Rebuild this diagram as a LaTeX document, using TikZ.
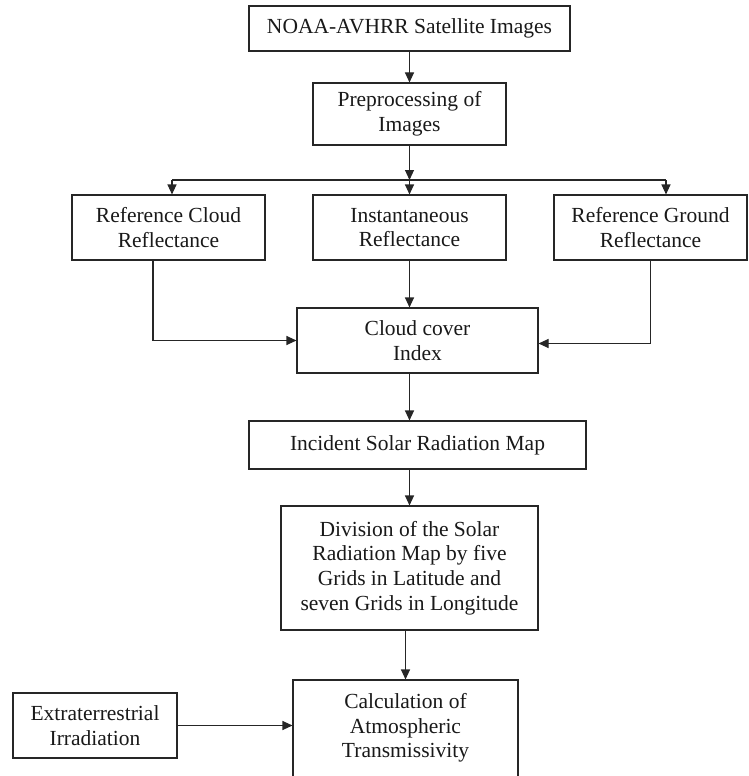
\documentclass[tikz,border=0pt]{standalone}
\usepackage{fontspec}
\setmainfont{Liberation Serif}
\usetikzlibrary{arrows.meta}
\begin{document}
\begin{tikzpicture}[x=1pt,y=-1pt,
  box/.style={draw=black!85, line width=1.1pt, fill=white, align=center, inner sep=0pt,
    font=\fontsize{21.5}{24.7}\selectfont, text=black!90},
  txt/.style={align=center, inner sep=0pt, font=\fontsize{21.5}{24.7}\selectfont, text=black!90},
  arr/.style={draw=black!85, line width=1.1pt, -{Triangle[length=10pt,width=9pt]}},
  ln/.style={draw=black!85, line width=1.1pt}]
\useasboundingbox (0,0) rectangle (748,776);
\node[box, minimum width=321pt, minimum height=45pt] (top) at (409.5,28.5) {NOAA-AVHRR Satellite Images};
\node[box, minimum width=193pt, minimum height=62pt] (pre) at (409.5,114) {Preprocessing of\\Images};
\node[box, minimum width=193pt, minimum height=65pt] (rcl) at (168.5,227.5) {Reference Cloud\\Reflectance};
\node[box, minimum width=193pt, minimum height=65pt] (ins) at (409.5,227.5) {Instantaneous\\Reflectance};
\node[box, minimum width=193pt, minimum height=65pt] (rgr) at (650.5,227.5) {Reference Ground\\Reflectance};
\node[box, minimum width=241pt, minimum height=65pt] (cci) at (417.5,340.5) {Cloud cover\\Index};
\node[box, minimum width=337pt, minimum height=48pt] (isr) at (417.5,445) {Incident Solar Radiation Map};
\node[box, minimum width=257pt, minimum height=124pt] (div) at (409.5,568) {Division of the Solar\\Radiation Map by five\\Grids in Latitude and\\seven Grids in Longitude};
\node[box, minimum width=225pt, minimum height=110pt] (calcbox) at (405.5,735) {};
\node[txt] (calc) at (405.5,728) {Calculation of\\Atmospheric\\Transmissivity};
\node[box, minimum width=164pt, minimum height=65pt] (ext) at (95,725.5) {Extraterrestrial\\Irradiation};
% branch junction
\coordinate (j) at (409.5,180);
\coordinate (jl) at (172,180);
\coordinate (jr) at (666,180);
\draw[arr] (top.south) -- (pre.north);
\draw[arr] (pre.south) -- (j);
\draw[ln] (jl) -- (jr);
\draw[arr] (jl) -- (jl |- rcl.north);
\draw[arr] (j) -- (ins.north);
\draw[arr] (jr) -- (jr |- rgr.north);
\draw[arr] ([xshift=-15.5pt]rcl.south) |- (cci.west);
\draw[arr] (rgr.south) |- ([yshift=-3pt]cci.east);
\draw[arr] (ins.south) -- (ins.south |- cci.north);
\draw[arr] (cci.south -| ins.south) -- (isr.north -| ins.south);
\draw[arr] (isr.south -| div.north) -- (div.north);
\draw[arr] (div.south -| calcbox.north) -- (calcbox.north);
\draw[arr] (ext.east) -- (calcbox.west |- ext.east);
\end{tikzpicture}
\end{document}
